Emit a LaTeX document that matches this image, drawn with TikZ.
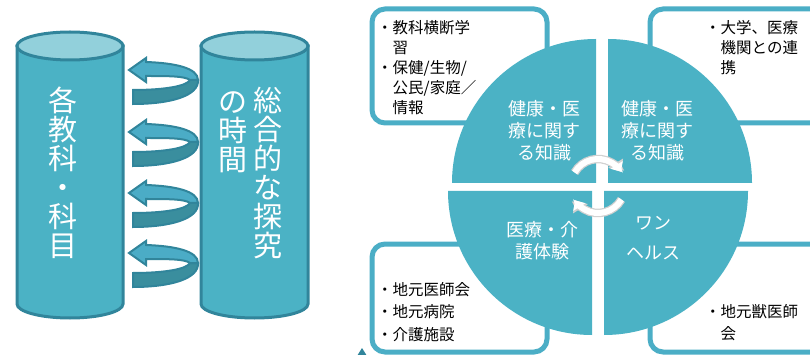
\documentclass[tikz,border=0pt]{standalone}
\usepackage{fontspec}
\setmainfont{Noto Sans CJK JP}
\usetikzlibrary{arrows.meta}
\definecolor{cylfill}{RGB}{75,178,197}
\definecolor{cyltop}{RGB}{146,208,219}
\definecolor{cylline}{RGB}{49,133,155}
\definecolor{arrlight}{RGB}{75,172,198}
\definecolor{arrdark}{RGB}{58,142,158}
\definecolor{boxline}{RGB}{75,174,198}
\tikzset{
	cylbody/.style={fill=cylfill,draw=cylline,line width=3pt},
	cyltext/.style={align=center,text=white,inner sep=0pt,font=\fontsize{29}{29}\selectfont},
	infobox/.style={fill=white,draw=boxline,line width=5pt,rounded corners=13pt},
	boxtext/.style={anchor=base west,align=left,inner sep=0pt,font=\fontsize{15.5}{20}\selectfont},
	quadtext/.style={align=center,text=white,inner sep=0pt,font=\fontsize{18}{22}\selectfont},
	cycout/.style={draw=black!18,line width=8.5pt,-{Triangle[length=10pt,width=17pt]}},
	cycin/.style={draw=white,line width=6pt,-{Triangle[length=8pt,width=14pt]}}
}
\begin{document}
\begin{tikzpicture}[x=1pt,y=-1pt]
	\useasboundingbox (0,0) rectangle (810,355);
	\clip (0,0) rectangle (810,355);
	\draw[cylbody] (17,46) -- (17,304) arc[start angle=180,end angle=0,x radius=53,y radius=14] -- (123,46) -- cycle;
	\draw[fill=cyltop,draw=cylline,line width=3pt] (70,46) ellipse [x radius=53,y radius=14];
	\draw[cylbody] (201,46) -- (201,304) arc[start angle=180,end angle=0,x radius=53.5,y radius=14] -- (308,46) -- cycle;
	\draw[fill=cyltop,draw=cylline,line width=3pt] (254.5,46) ellipse [x radius=53.5,y radius=14];
	\node[cyltext] (kyoka) at (63,173) {各\\教\\科\\・\\科\\目};
	\node[cyltext] (sogo) at (268,173) {総\\合\\的\\な\\探\\究};
	\node[cyltext] (jikan) at (233,132) {の\\時\\間};
	\foreach \y in {70,132,193,253}{
		\filldraw[fill=arrdark,draw=cylline,line width=2pt] (133,\y+20) .. controls (165,\y+20) and (187,\y+16) .. (190,\y+10) -- (198,\y+10) .. controls (199,\y+26) and (170,\y+34) .. (133,\y+34) -- cycle;
		\filldraw[fill=arrlight,draw=cylline,line width=2pt] (198,\y+10) .. controls (198,\y-2) and (175,\y-7) .. (146,\y-8) -- (146,\y-12) -- (129,\y) -- (146,\y+12) -- (146,\y+6) .. controls (168,\y+6) and (185,\y+6) .. (190,\y+10) -- cycle;
	}
	\draw[infobox] (372,9) rectangle (547,123);
	\draw[infobox] (650,9) rectangle (840,123);
	\draw[infobox] (372,244) rectangle (547,352);
	\draw[infobox] (650,244) rectangle (840,352);
	\fill[cylline] (362,348) -- (367,356) -- (357,356) -- cycle;
	\node[boxtext] (oudan) at (377,114) {・教科横断学\\\hspace*{1em}習\\・保健/生物/\\\hspace*{1em}公民/家庭／\\\hspace*{1em}情報};
	\node[boxtext] (renkei) at (705,74) {・大学、医療\\\hspace*{1em}機関との連\\\hspace*{1em}携};
	\node[boxtext] (chiiki) at (377,340) {・地元医師会\\[2.5pt]・地元病院\\[2.5pt]・介護施設};
	\node[boxtext] (jui) at (705,339) {・地元獣医師\\[2pt]\hspace*{1em}会};
	\fill[cylfill] (596,183) -- ++(-144,0) arc[start angle=180,end angle=270,radius=144] -- cycle;
	\fill[cylfill] (608,183) -- ++(0,-144) arc[start angle=270,end angle=360,radius=144] -- cycle;
	\fill[cylfill] (604,191) -- ++(144,0) arc[start angle=0,end angle=90,radius=144] -- cycle;
	\fill[cylfill] (592,191) -- ++(0,144) arc[start angle=90,end angle=180,radius=144] -- cycle;
	\node[quadtext] (chishiki) at (544,131) {健康・医\\療に関す\\る知識};
	\node[quadtext] (chishiki2) at (657,131) {健康・医\\療に関す\\る知識};
	\node[quadtext] (taiken) at (542,241) {医療・介\\護体験};
	\node[quadtext] (onehealth) at (653,238) {ワン\\[8pt]ヘルス};
	\draw[cycout] (598,186) ++(210:27) arc[start angle=210,end angle=328,radius=27];
	\draw[cycin] (598,186) ++(210:27) arc[start angle=210,end angle=328,radius=27];
	\draw[cycout] (598,186) ++(30:27) arc[start angle=30,end angle=148,radius=27];
	\draw[cycin] (598,186) ++(30:27) arc[start angle=30,end angle=148,radius=27];
\end{tikzpicture}
\end{document}
